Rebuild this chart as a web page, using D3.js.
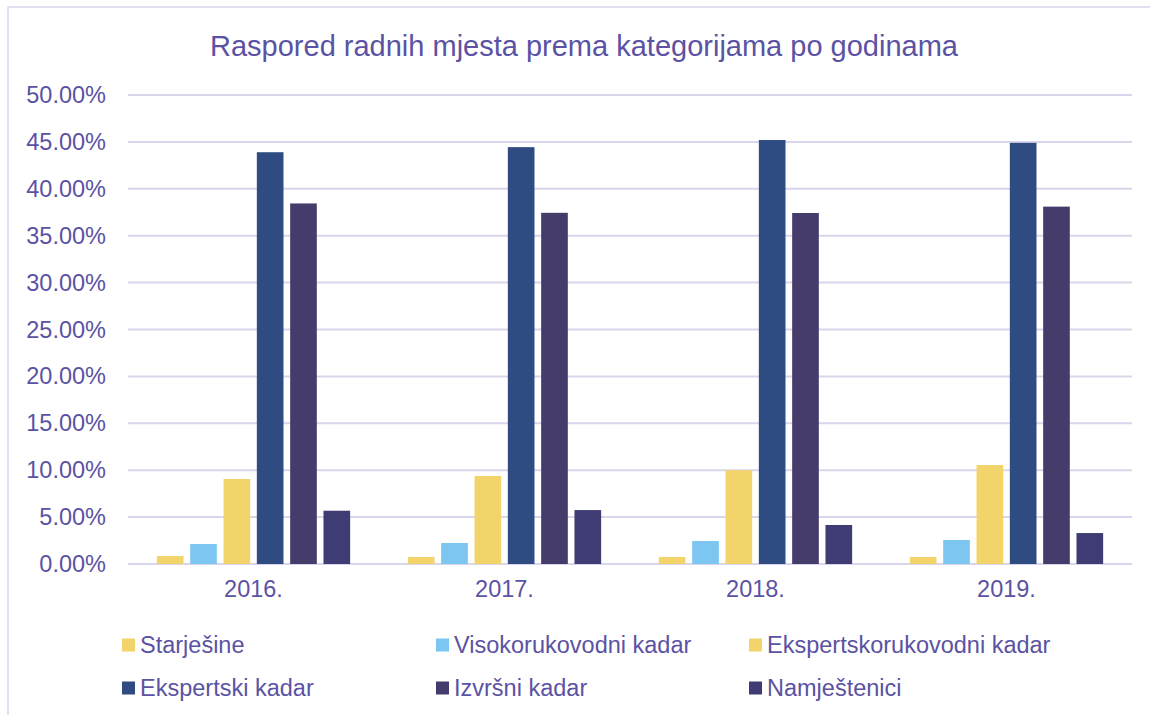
<!DOCTYPE html>
<html lang="hr">
<head>
    <meta charset="UTF-8">
    <title>Raspored radnih mjesta prema kategorijama po godinama</title>
    <style>
        body {
            margin: 0;
            padding: 0;
            background-color: #ffffff;
            font-family: 'Liberation Sans', Arial, sans-serif;
            overflow: hidden;
        }
        .grid line {
            stroke: #d9d5ec;
            stroke-width: 2px;
        }
        .label {
            fill: #5b52a3;
        }
    </style>
</head>
<body>
    <div id="chart"></div>

    <script src="https://d3js.org/d3.v7.min.js"></script>
    <script>
        const width = 1150;
        const height = 715;

        const years = ['2016.', '2017.', '2018.', '2019.'];
        const seriesNames = ['Starješine', 'Visokorukovodni kadar', 'Ekspertskorukovodni kadar',
            'Ekspertski kadar', 'Izvršni kadar', 'Namještenici'];
        const seriesColors = ['#f2d46b', '#7dc6f2', '#f2d46b', '#2e4c82', '#463c6c', '#3f3c74'];

        // values in % per year, one array per series
        const starjesine = [0.85, 0.75, 0.75, 0.75];
        const visokorukovodni = [2.13, 2.24, 2.45, 2.56];
        const ekspertskorukovodni = [9.06, 9.38, 10.0, 10.55];
        const ekspertski = [43.9, 44.44, 45.2, 44.9];
        const izvrsni = [38.44, 37.44, 37.42, 38.1];
        const namjestenici = [5.68, 5.75, 4.16, 3.3];
        const seriesValues = [starjesine, visokorukovodni, ekspertskorukovodni, ekspertski, izvrsni, namjestenici];

        const yTicks = [0, 5, 10, 15, 20, 25, 30, 35, 40, 45, 50];

        const margin = { left: 128, right: 18, top: 95, bottom: 151 };
        const fontSize = '23.5px';

        const svg = d3.select('#chart')
            .append('svg')
            .attr('width', width)
            .attr('height', height);

        // chart frame (continues beyond the visible area)
        svg.append('rect')
            .attr('x', 8)
            .attr('y', 7)
            .attr('width', width + 20)
            .attr('height', height + 20)
            .attr('fill', 'none')
            .attr('stroke', '#d9d5ec')
            .attr('stroke-width', 1.5);

        const x0 = d3.scaleBand()
            .domain(years)
            .range([margin.left, width - margin.right])
            .paddingInner(0.23)
            .paddingOuter(0.115);

        const x1 = d3.scaleBand()
            .domain(d3.range(seriesNames.length))
            .range([0, x0.bandwidth()])
            .paddingInner(0.2);

        const y = d3.scaleLinear()
            .domain([0, 50])
            .range([height - margin.bottom, margin.top]);

        // title
        svg.append('text')
            .attr('class', 'label')
            .attr('x', 584)
            .attr('y', 56)
            .attr('text-anchor', 'middle')
            .style('font-size', '29px')
            .text('Raspored radnih mjesta prema kategorijama po godinama');

        // gridlines
        svg.append('g')
            .attr('class', 'grid')
            .selectAll('line')
            .data(yTicks)
            .enter().append('line')
            .attr('x1', margin.left)
            .attr('x2', width - margin.right)
            .attr('y1', d => y(d))
            .attr('y2', d => y(d));

        // y axis labels
        const yAxis = d3.axisLeft(y)
            .tickValues(yTicks)
            .tickSize(0)
            .tickPadding(22)
            .tickFormat(d => d.toFixed(2) + '%');

        svg.append('g')
            .attr('transform', `translate(${margin.left},0)`)
            .call(yAxis)
            .call(g => g.select('.domain').remove())
            .call(g => g.selectAll('text')
                .attr('class', 'label')
                .attr('fill', null)
                .style('font-family', "'Liberation Sans', Arial, sans-serif")
                .style('font-size', fontSize));

        // x axis labels
        const xAxis = d3.axisBottom(x0)
            .tickSize(0)
            .tickPadding(16);

        svg.append('g')
            .attr('transform', `translate(0,${y(0)})`)
            .call(xAxis)
            .call(g => g.select('.domain').remove())
            .call(g => g.selectAll('text')
                .attr('class', 'label')
                .attr('fill', null)
                .style('font-family', "'Liberation Sans', Arial, sans-serif")
                .style('font-size', fontSize));

        // bars
        const groups = svg.selectAll('.year')
            .data(years)
            .enter().append('g')
            .attr('class', 'year')
            .attr('transform', d => `translate(${x0(d)},0)`);

        groups.selectAll('rect')
            .data((d, i) => seriesValues.map((vals, s) => ({ s: s, v: vals[i] })))
            .enter().append('rect')
            .attr('x', d => x1(d.s))
            .attr('width', x1.bandwidth())
            .attr('y', d => y(d.v))
            .attr('height', d => y(0) - y(d.v))
            .attr('fill', d => seriesColors[d.s]);

        // legend
        const legendCols = [122, 436, 749];
        const legendRows = [645, 688];

        const legend = svg.selectAll('.legend')
            .data(seriesNames)
            .enter().append('g')
            .attr('class', 'legend')
            .attr('transform', (d, i) => `translate(${legendCols[i % 3]},${legendRows[Math.floor(i / 3)]})`);

        legend.append('rect')
            .attr('x', 0)
            .attr('y', -6.5)
            .attr('width', 13)
            .attr('height', 13)
            .attr('fill', (d, i) => seriesColors[i]);

        legend.append('text')
            .attr('class', 'label')
            .attr('x', 18)
            .attr('dy', '0.35em')
            .style('font-size', fontSize)
            .text(d => d);
    </script>
</body>
</html>
